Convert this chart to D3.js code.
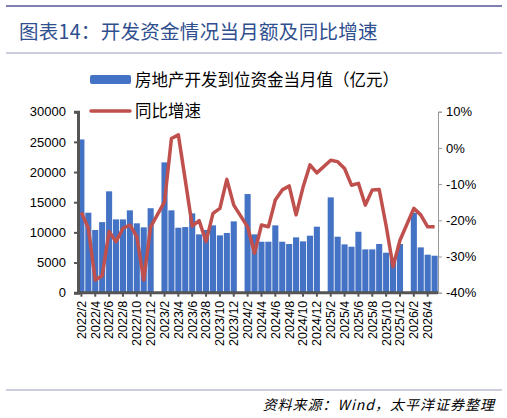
<!DOCTYPE html>
<html><head><meta charset="utf-8">
<script src="https://cdn.jsdelivr.net/npm/d3@7"></script>
<style>body{margin:0;background:#fff}</style>
</head><body>
<svg id="c" width="507" height="418"></svg>
<script>
const categories = [];
[2022,2023,2024,2025,2026].forEach(y=>{for(let m=1;m<=12;m++){if(y===2022&&m===1)continue;if(y===2026&&m>5)continue;categories.push(y+"/"+m);}});
const amount = [25400,13260,10400,11700,16800,12150,12150,13650,11500,10830,14000,
 null,21600,13650,10770,10880,13150,9670,10400,11160,9500,9900,11820,
 null,16350,9670,8450,8450,11160,8450,8070,9170,8510,9450,10940,
 null,15800,9280,8010,7620,10100,7180,7180,8070,6630,5800,8070,
 null,13260,7510,6300,6130];
const yoy = [-17.8,-22.2,-36.5,-35.3,-23.1,-25.9,-22.2,-21.3,-24.5,-36.5,-21.8,
 null,-14.9,2.6,3.6,-8.9,-21.6,-20.1,-25.9,-18.1,-16.7,-8.7,-15.8,
 null,-21.8,-29.1,-21.3,-21.8,-14.4,-11.6,-10.5,-18.5,-10.9,-4.7,-6.9,
 null,-3.4,-3.8,-5.7,-10.3,-9.8,-15.8,-11.6,-11.5,-21.5,-32.8,-25.5,
 null,-16.7,-18.5,-21.8,-21.8];
const leftTicks = [0,5000,10000,15000,20000,25000,30000];
const rightTicks = [-40,-30,-20,-10,0,10];

const svg = d3.select("#c");
const F = "'Noto Sans CJK SC','Liberation Sans',sans-serif";
const L=78,R=438,T=111.7,B=292.7;
svg.append("line").attr("x1",6).attr("x2",502).attr("y1",6).attr("y2",6).attr("stroke","#7f7fb0").attr("stroke-width",2);
svg.append("line").attr("x1",6).attr("x2",502).attr("y1",53).attr("y2",53).attr("stroke","#9a9ac0").attr("stroke-width",1);
svg.append("text").attr("x",19).attr("y",39).attr("fill","#2f4f8f").attr("font-family",F).attr("font-size",19.5).attr("letter-spacing",0.3).text("图表14：开发资金情况当月额及同比增速");

const x = d3.scaleBand().domain(categories).range([L,R]).paddingInner(0.12).paddingOuter(0.05);
const yl = d3.scaleLinear().domain([0,30000]).range([B,T]);
const yr = d3.scaleLinear().domain([-40,10]).range([B,T]);

svg.append("g").selectAll("rect").data(categories.map((c,i)=>({c,v:amount[i]})).filter(d=>d.v!=null))
 .enter().append("rect").attr("x",d=>x(d.c)).attr("width",x.bandwidth()).attr("y",d=>yl(d.v)).attr("height",d=>B-yl(d.v)).attr("fill","#4472c4");

const line = d3.line().x(d=>x(d.c)+x.bandwidth()/2).y(d=>yr(d.v));
svg.append("path").datum(categories.map((c,i)=>({c,v:yoy[i]})).filter(d=>d.v!=null)).attr("d",line).attr("fill","none").attr("stroke","#c0504d").attr("stroke-width",3.5).attr("stroke-linejoin","round");

const ga = svg.append("g").attr("transform",`translate(${L},0)`).call(d3.axisLeft(yl).tickValues(leftTicks).tickSize(4).tickFormat(d3.format("d")));
ga.select(".domain").attr("stroke","#555").attr("stroke-width",3);
ga.selectAll("line").attr("stroke","#555").attr("stroke-width",2);
ga.selectAll("text").attr("font-family","'Liberation Sans',sans-serif").attr("font-size",13).attr("fill","#000").attr("x",-12);

const gr = svg.append("g").attr("transform",`translate(${R},0)`).call(d3.axisRight(yr).tickValues(rightTicks).tickSize(4).tickFormat(d=>d+"%"));
gr.select(".domain").attr("stroke","#999");
gr.selectAll("line").attr("stroke","#999");
gr.selectAll("text").attr("font-family","'Liberation Sans',sans-serif").attr("font-size",13).attr("fill","#000").attr("x",8);

const gx = svg.append("g").attr("transform",`translate(0,${B})`).call(d3.axisBottom(x).tickValues(categories.filter((c,i)=>i%2===0)).tickSize(4));
gx.select(".domain").attr("stroke","#555").attr("stroke-width",3).attr("d",`M${L},0H${R}`);
gx.selectAll("line").attr("stroke","#555").attr("stroke-width",2);
gx.selectAll("text").attr("font-family","'Liberation Sans',sans-serif").attr("font-size",12.5).attr("fill","#000")
 .attr("transform","rotate(-90)").attr("text-anchor","end").attr("x",-8).attr("y",0).attr("dy","0.35em");

svg.append("rect").attr("x",90).attr("y",75).attr("width",41).attr("height",9).attr("rx",2).attr("fill","#4472c4");
svg.append("text").attr("x",135).attr("y",86).attr("font-family",F).attr("font-size",16.5).text("房地产开发到位资金当月值（亿元）");
svg.append("line").attr("x1",91).attr("x2",130).attr("y1",111).attr("y2",111).attr("stroke","#c0504d").attr("stroke-width",3.5).attr("stroke-linecap","round");
svg.append("text").attr("x",135).attr("y",117).attr("font-family",F).attr("font-size",16.5).text("同比增速");

svg.append("line").attr("x1",6).attr("x2",502).attr("y1",390).attr("y2",390).attr("stroke","#9a9ac0").attr("stroke-width",1);
svg.append("text").attr("x",495).attr("y",410).attr("text-anchor","end").attr("font-family",F).attr("font-style","italic").attr("font-size",14).attr("letter-spacing",1).text("资料来源：Wind，太平洋证券整理");
</script>
</body></html>
